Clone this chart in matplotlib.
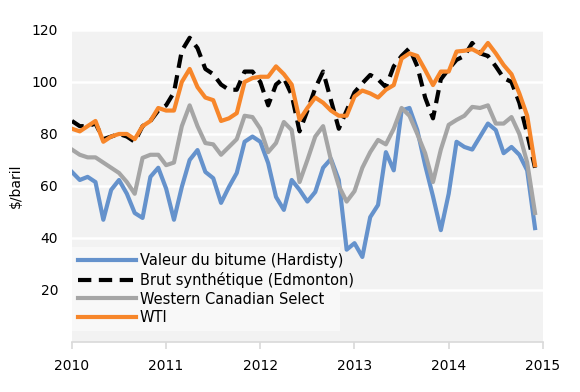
import numpy as np
import matplotlib
matplotlib.use("Agg")
import matplotlib.pyplot as plt

# monthly values, Jan 2010 - Dec 2014 ($/baril)
bitume = [65.4, 62.3, 63.5, 61.5, 47, 58.5, 62.3, 57, 49.6, 47.7, 63.5, 67,
          59, 47, 59.6, 70, 73.8, 65.4, 63, 53.5, 59.6, 65, 77, 79,
          77, 68.8, 55.8, 50.8, 62.3, 58.5, 54, 57.7, 67, 70.4, 62.3, 35.5,
          38, 32.7, 48, 52.7, 73, 66, 89, 90, 81.5, 68, 56, 43,
          57, 77, 75, 74, 79, 84, 81.5, 72.6, 75, 72, 66, 43.8]
synth = [85, 83, 83, 84, 78, 79, 80, 79, 77, 83, 85, 89,
         91, 96, 112, 117, 113, 105, 103, 99, 97, 97, 104, 104,
         100, 91, 99, 101.5, 95, 81, 89, 97.6, 104, 93, 82, 89,
         96, 99.5, 102.7, 101, 98, 106, 110, 113, 106, 94, 86, 101,
         105, 108.5, 110, 115, 111, 110, 106, 101.5, 100, 92, 80, 67]
wcs = [74, 72, 71, 71, 69, 67, 65, 61.5, 57, 70.8, 72, 72,
       68, 69, 83, 91, 83, 76.5, 76, 72, 75, 78, 87, 86.5,
       82, 73, 76.5, 84.6, 81.5, 61.5, 70, 79, 83, 70, 60, 54,
       58, 67, 73, 77.7, 76, 82, 90, 87, 80, 72.6, 61.5, 74,
       83.5, 85.4, 87, 90.4, 90, 91, 84, 84, 86.5, 80, 69, 49.6]
wti = [82, 81, 83, 85, 77, 79, 80, 80, 78, 83, 85, 90,
       89, 89, 100, 105, 98, 94, 93, 85, 86, 88, 100, 101.5,
       102, 102, 106, 103, 99, 85.4, 90, 94, 92, 89, 87, 87,
       94.4, 96.7, 95.6, 94, 97, 98.8, 109, 111, 110, 104.6, 98.8, 104,
       104, 111.7, 112, 112.6, 111, 115, 111, 106.5, 103, 95.6, 87, 68]
labels = ["Valeur du bitume (Hardisty)", "Brut synthétique (Edmonton)",
          "Western Canadian Select", "WTI"]
years = [2010, 2011, 2012, 2013, 2014, 2015]

months = 2010 + np.arange(len(wti)) / 12.0

plt.rcParams['font.family'] = ['DejaVu Sans']

fig = plt.figure(figsize=(5.8, 3.92), dpi=100)
ax = fig.add_axes([0.124, 0.1276, 0.812, 0.796])
ax.set_facecolor("#F2F2F2")

lw = 3.0
ax.plot(months, bitume, color="#6592CC", lw=lw, label=labels[0])
ax.plot(months, synth, color="black", lw=lw, ls=(0, (3.2, 1.8)), label=labels[1])
ax.plot(months, wcs, color="#A5A5A5", lw=lw, label=labels[2])
ax.plot(months, wti, color="#F7862A", lw=lw, label=labels[3])

ax.set_xlim(2010, 2015)
ax.set_ylim(0, 120)
ax.set_yticks([20, 40, 60, 80, 100, 120])
ax.set_xticks(years)
ax.set_xticklabels([str(y) for y in years])
ax.grid(axis="y", color="white", lw=1.8)
ax.set_axisbelow(True)

for s in ["left", "top", "right"]:
    ax.spines[s].set_visible(False)
ax.spines["bottom"].set_color("#D9D9D9")
ax.spines["bottom"].set_linewidth(1.2)
ax.tick_params(axis="y", length=0, pad=10, labelsize=10)
ax.tick_params(axis="x", length=5, color="#D9D9D9", width=1.2, pad=7, labelsize=10)
ax.set_ylabel("$/baril", fontsize=10, labelpad=6)

leg = ax.legend(loc="lower left", bbox_to_anchor=(0.0, 0.035, 0.57, 0.3),
                mode="expand", frameon=True, fancybox=False, fontsize=10.5,
                handlelength=4.0, borderaxespad=0, handletextpad=0.25,
                labelspacing=0.25, borderpad=0.4)
leg.get_frame().set_facecolor("#F8F8F8")
leg.get_frame().set_edgecolor("none")
leg.get_frame().set_alpha(1)

fig.savefig("out.png", dpi=100)
